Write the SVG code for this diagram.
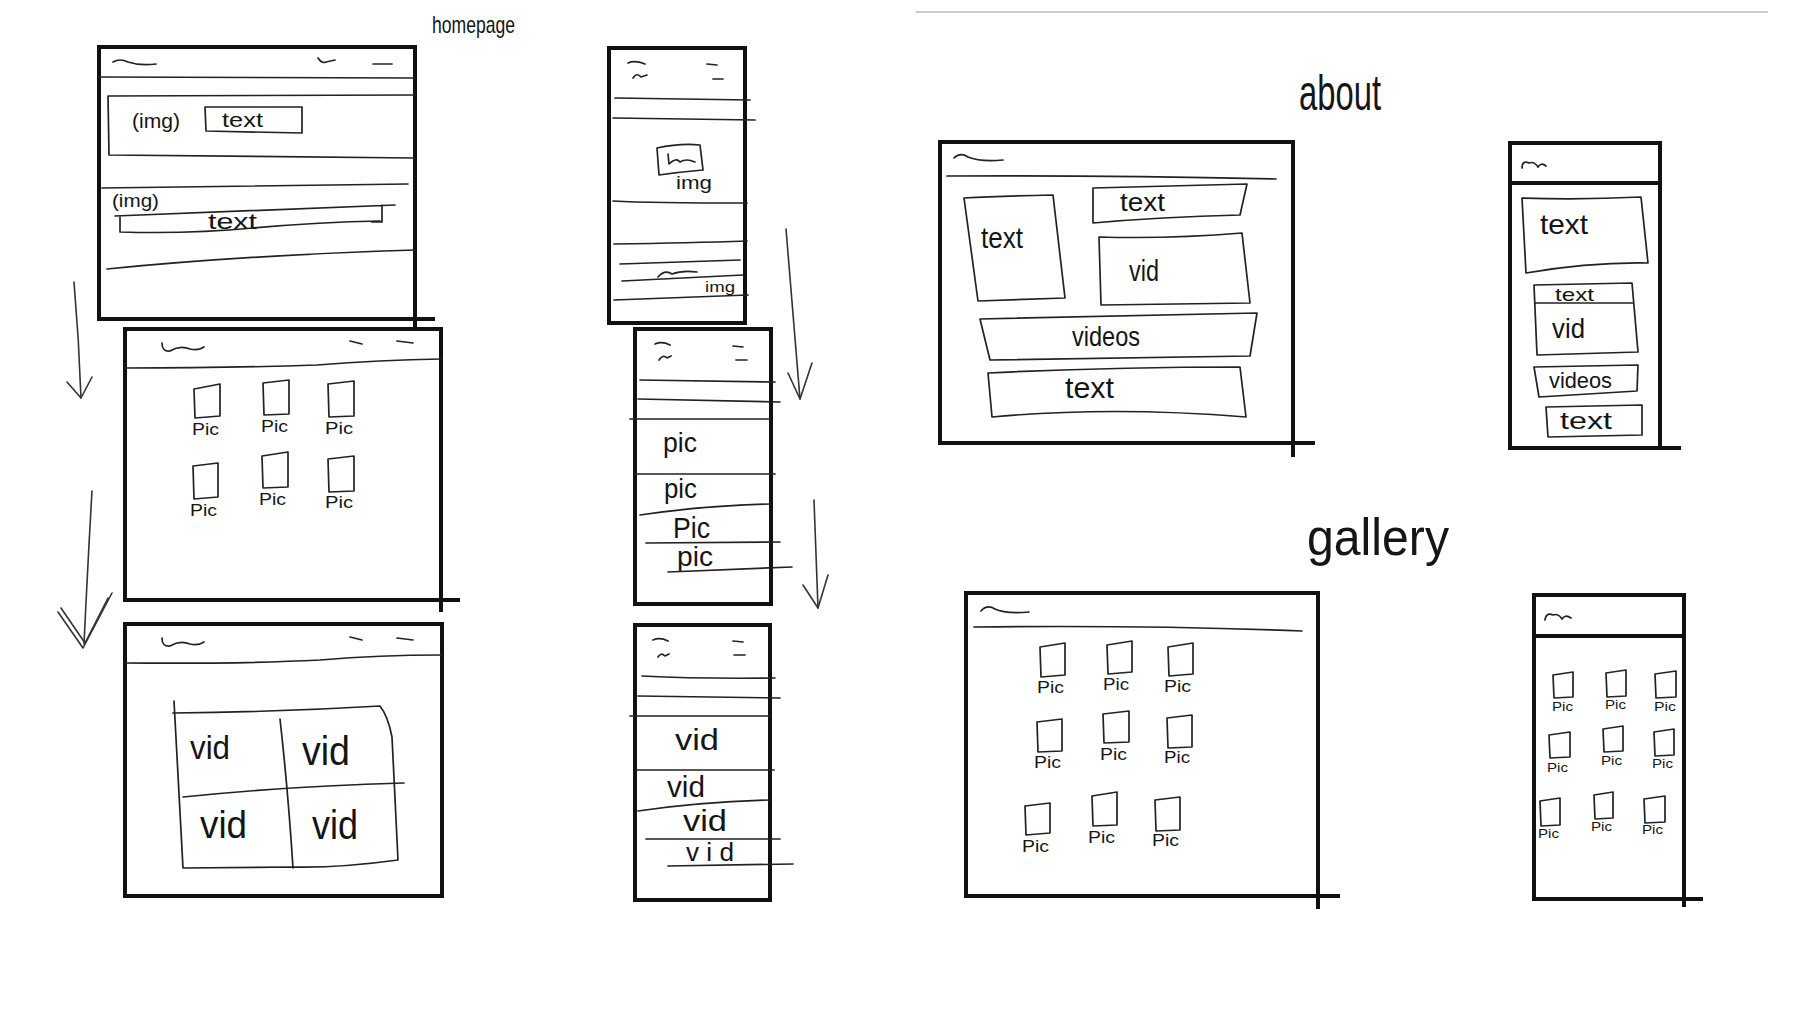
<svg xmlns="http://www.w3.org/2000/svg" width="1800" height="1033" viewBox="0 0 1800 1033">
<style>
.frame{fill:none;stroke:#111;stroke-width:4;stroke-linecap:square}
.ln{fill:none;stroke:#222;stroke-width:1.7;stroke-linecap:round;stroke-linejoin:round}
.hw{font-family:"Liberation Sans","DejaVu Sans",sans-serif;fill:#151515}
.arr{fill:none;stroke:#333;stroke-width:1.6;stroke-linecap:round;stroke-linejoin:round}
</style>
<rect width="1800" height="1033" fill="#ffffff"/>
<line x1="916" y1="12" x2="1768" y2="12" stroke="#c9ccd1" stroke-width="2"/>

<!-- HOMEPAGE -->
<text class="hw" x="432" y="33" font-size="24" textLength="83" lengthAdjust="spacingAndGlyphs">homepage</text>

<g id="home-desktop-1">
<rect class="frame" x="99" y="47" width="316" height="272"/>
<line class="frame" x1="415" y1="319" x2="433" y2="319"/>
<line class="frame" x1="415" y1="319" x2="415" y2="327"/>
<path class="ln" d="M113 62 Q120 58 128 62 Q140 66 156 64"/>
<path class="ln" d="M318 58 Q322 64 326 62 L335 60"/>
<path class="ln" d="M373 64 L392 64"/>
<path class="ln" d="M99 77 L415 78"/>
<path class="ln" d="M108 96 L415 95 M108 96 L109 155 M109 155 L415 158"/>
<text class="hw" x="132" y="128" font-size="20" textLength="48" lengthAdjust="spacingAndGlyphs">(img)</text>
<path class="ln" d="M205 107 L302 107 L302 133 L206 131 Z"/>
<text class="hw" x="222" y="127" font-size="20" textLength="41" lengthAdjust="spacingAndGlyphs">text</text>
<path class="ln" d="M102 188 L408 184"/>
<text class="hw" x="112" y="207" font-size="18" textLength="47" lengthAdjust="spacingAndGlyphs">(img)</text>
<path class="ln" d="M115 216 L395 205 M382 205 L382 222 L372 222 M120 216 L120 232 Q190 234 253 228 Q320 222 380 221"/>
<text class="hw" x="208" y="229" font-size="22" textLength="49" lengthAdjust="spacingAndGlyphs">text</text>
<path class="ln" d="M107 269 Q250 255 415 250"/>
</g>

<g id="home-desktop-2">
<rect class="frame" x="125" y="329" width="316" height="271"/>
<line class="frame" x1="441" y1="600" x2="458" y2="600"/>
<line class="frame" x1="441" y1="600" x2="441" y2="610"/>
<path class="ln" d="M162 343 Q162 352 170 351 Q180 345 190 349 Q198 351 204 347"/>
<path class="ln" d="M350 341 L362 344 M397 341 L413 343"/>
<path class="ln" d="M125 368 Q230 368 317 365 Q380 360 441 359"/>
<path class="ln" d="M194 389 L220 384 L220 416 L195 418 Z"/>
<path class="ln" d="M263 383 L289 380 L289 414 L264 415 Z"/>
<path class="ln" d="M328 384 L354 381 L354 416 L329 417 Z"/>
<text class="hw" x="192" y="435" font-size="16" textLength="27" lengthAdjust="spacingAndGlyphs">Pic</text>
<text class="hw" x="261" y="432" font-size="16" textLength="27" lengthAdjust="spacingAndGlyphs">Pic</text>
<text class="hw" x="325" y="434" font-size="16" textLength="28" lengthAdjust="spacingAndGlyphs">Pic</text>
<path class="ln" d="M193 466 L218 463 L218 497 L194 499 Z"/>
<path class="ln" d="M262 456 L288 452 L288 487 L263 488 Z"/>
<path class="ln" d="M328 459 L354 456 L354 491 L329 492 Z"/>
<text class="hw" x="190" y="516" font-size="16" textLength="27" lengthAdjust="spacingAndGlyphs">Pic</text>
<text class="hw" x="259" y="505" font-size="16" textLength="27" lengthAdjust="spacingAndGlyphs">Pic</text>
<text class="hw" x="325" y="508" font-size="16" textLength="28" lengthAdjust="spacingAndGlyphs">Pic</text>
</g>

<g id="home-desktop-3">
<rect class="frame" x="125" y="624" width="317" height="272"/>
<path class="ln" d="M162 638 Q162 647 170 646 Q180 640 190 644 Q198 646 204 642"/>
<path class="ln" d="M350 637 L362 640 M397 638 L413 640"/>
<path class="ln" d="M125 663 Q240 664 320 660 Q380 655 441 655"/>
<path class="ln" d="M173 713 Q280 712 380 706 Q388 716 392 737 L398 860 Q340 868 293 867 L183 868 L174 701"/>
<path class="ln" d="M280 719 Q288 790 293 868"/>
<path class="ln" d="M183 797 Q290 786 404 783"/>
<text class="hw" x="190" y="759" font-size="34" textLength="40" lengthAdjust="spacingAndGlyphs">vid</text>
<text class="hw" x="302" y="765" font-size="40" textLength="48" lengthAdjust="spacingAndGlyphs">vid</text>
<text class="hw" x="200" y="838" font-size="38" textLength="47" lengthAdjust="spacingAndGlyphs">vid</text>
<text class="hw" x="312" y="839" font-size="40" textLength="46" lengthAdjust="spacingAndGlyphs">vid</text>
</g>

<g id="home-mobile-1">
<rect class="frame" x="609" y="48" width="136" height="275"/>
<path class="ln" d="M628 63 Q635 60 645 64 M633 78 Q637 72 641 77 L647 75"/>
<path class="ln" d="M707 64 L717 65 M713 79 L723 79"/>
<path class="ln" d="M615 98 Q680 99 750 100"/>
<path class="ln" d="M613 118 L755 120"/>
<path class="ln" d="M657 148 Q680 143 700 145 L703 170 Q680 172 659 175 Z"/>
<path class="ln" d="M668 154 L669 164 Q676 157 680 162 Q686 158 695 162"/>
<text class="hw" x="676" y="189" font-size="18" textLength="36" lengthAdjust="spacingAndGlyphs">img</text>
<path class="ln" d="M613 201 Q650 203 747 203"/>
<path class="ln" d="M614 244 Q690 243 747 241"/>
<path class="ln" d="M620 264 L740 260"/>
<path class="ln" d="M658 277 Q665 269 672 274 Q682 270 697 272"/>
<path class="ln" d="M622 281 L743 275"/>
<text class="hw" x="705" y="292" font-size="14" textLength="30" lengthAdjust="spacingAndGlyphs">img</text>
<path class="ln" d="M614 300 L748 295"/>
</g>

<g id="home-mobile-2">
<rect class="frame" x="635" y="329" width="136" height="275"/>
<path class="ln" d="M655 344 Q662 341 670 345 M659 360 Q663 354 667 358 L671 356"/>
<path class="ln" d="M733 346 L743 347 M736 360 L747 360"/>
<path class="ln" d="M640 380 Q700 381 775 382"/>
<path class="ln" d="M638 399 L780 402"/>
<path class="ln" d="M630 419 L770 419"/>
<text class="hw" x="663" y="452" font-size="28" textLength="34" lengthAdjust="spacingAndGlyphs">pic</text>
<path class="ln" d="M635 474 L775 474"/>
<text class="hw" x="664" y="498" font-size="27" textLength="33" lengthAdjust="spacingAndGlyphs">pic</text>
<path class="ln" d="M640 515 Q700 506 770 504"/>
<text class="hw" x="673" y="538" font-size="30" textLength="37" lengthAdjust="spacingAndGlyphs">Pic</text>
<path class="ln" d="M646 543 L780 542"/>
<text class="hw" x="677" y="566" font-size="27" textLength="36" lengthAdjust="spacingAndGlyphs">pic</text>
<path class="ln" d="M668 572 L792 567"/>
</g>

<g id="home-mobile-3">
<rect class="frame" x="635" y="625" width="135" height="275"/>
<path class="ln" d="M653 640 Q660 637 668 641 M658 657 Q661 652 665 656 L669 654"/>
<path class="ln" d="M733 641 L743 642 M734 655 L745 655"/>
<path class="ln" d="M642 676 Q700 679 775 678"/>
<path class="ln" d="M638 696 L780 698"/>
<path class="ln" d="M630 716 L770 716"/>
<text class="hw" x="675" y="750" font-size="30" textLength="44" lengthAdjust="spacingAndGlyphs">vid</text>
<path class="ln" d="M636 770 L774 770"/>
<text class="hw" x="667" y="797" font-size="30" textLength="38" lengthAdjust="spacingAndGlyphs">vid</text>
<path class="ln" d="M638 811 Q700 802 770 800"/>
<text class="hw" x="683" y="831" font-size="30" textLength="44" lengthAdjust="spacingAndGlyphs">vid</text>
<path class="ln" d="M646 839 L780 839"/>
<text class="hw" x="686" y="861" font-size="26" textLength="48" lengthAdjust="spacingAndGlyphs">v i d</text>
<path class="ln" d="M668 866 L793 864"/>
</g>

<!-- ABOUT -->
<text class="hw" x="1299" y="110" font-size="50" textLength="82" lengthAdjust="spacingAndGlyphs">about</text>

<g id="about-desktop">
<rect class="frame" x="940" y="142" width="353" height="301"/>
<line class="frame" x1="1293" y1="443" x2="1313" y2="443"/>
<line class="frame" x1="1293" y1="443" x2="1293" y2="455"/>
<path class="ln" d="M954 158 Q960 152 968 157 Q980 162 1003 160"/>
<path class="ln" d="M947 176 Q1100 175 1276 179"/>
<path class="ln" d="M964 198 Q1000 196 1053 195 L1065 298 L978 301 Z"/>
<text class="hw" x="981" y="248" font-size="30" textLength="42" lengthAdjust="spacingAndGlyphs">text</text>
<path class="ln" d="M1093 188 L1247 184 L1240 215 Q1160 217 1093 223 Z"/>
<text class="hw" x="1120" y="211" font-size="26" textLength="45" lengthAdjust="spacingAndGlyphs">text</text>
<path class="ln" d="M1099 237 Q1170 239 1242 233 L1250 303 L1101 305 Z"/>
<text class="hw" x="1129" y="281" font-size="30" textLength="30" lengthAdjust="spacingAndGlyphs">vid</text>
<path class="ln" d="M980 319 L1257 313 L1250 356 L990 360 Z"/>
<text class="hw" x="1072" y="346" font-size="28" textLength="68" lengthAdjust="spacingAndGlyphs">videos</text>
<path class="ln" d="M988 373 Q1110 367 1240 367 L1246 417 Q1110 406 992 417 Z"/>
<text class="hw" x="1065" y="398" font-size="30" textLength="49" lengthAdjust="spacingAndGlyphs">text</text>
</g>

<g id="about-mobile">
<rect class="frame" x="1510" y="143" width="150" height="305"/>
<line class="frame" x1="1660" y1="448" x2="1679" y2="448"/>
<line class="frame" x1="1510" y1="183" x2="1660" y2="183" stroke-width="2"/>
<path class="ln" d="M1522 168 Q1522 160 1529 163 Q1534 161 1538 167 Q1541 162 1546 166"/>
<path class="ln" d="M1522 198 Q1580 200 1641 197 L1648 263 Q1590 262 1526 273 Z"/>
<text class="hw" x="1540" y="234" font-size="28" textLength="48" lengthAdjust="spacingAndGlyphs">text</text>
<path class="ln" d="M1534 285 L1632 283 L1638 352 L1537 355 Z"/>
<path class="ln" d="M1535 303 L1633 303"/>
<text class="hw" x="1555" y="301" font-size="19" textLength="39" lengthAdjust="spacingAndGlyphs">text</text>
<text class="hw" x="1552" y="338" font-size="28" textLength="33" lengthAdjust="spacingAndGlyphs">vid</text>
<path class="ln" d="M1534 367 L1638 365 L1637 391 L1539 397 Z"/>
<text class="hw" x="1549" y="388" font-size="22" textLength="63" lengthAdjust="spacingAndGlyphs">videos</text>
<path class="ln" d="M1546 407 L1642 405 L1642 435 L1548 437 Z"/>
<text class="hw" x="1560" y="429" font-size="24" textLength="52" lengthAdjust="spacingAndGlyphs">text</text>
</g>

<!-- GALLERY -->
<text class="hw" x="1307" y="555" font-size="52" textLength="142" lengthAdjust="spacingAndGlyphs">gallery</text>

<g id="gallery-desktop">
<rect class="frame" x="966" y="593" width="352" height="303"/>
<line class="frame" x1="1318" y1="896" x2="1338" y2="896"/>
<line class="frame" x1="1318" y1="896" x2="1318" y2="907"/>
<path class="ln" d="M981 611 Q987 604 995 609 Q1005 614 1029 612"/>
<path class="ln" d="M974 627 Q1150 625 1302 631"/>
<path class="ln" d="M1040 647 L1065 643 L1065 675 L1041 677 Z"/>
<path class="ln" d="M1107 645 L1132 641 L1132 672 L1108 674 Z"/>
<path class="ln" d="M1168 647 L1193 643 L1193 674 L1169 676 Z"/>
<text class="hw" x="1037" y="693" font-size="16" textLength="27" lengthAdjust="spacingAndGlyphs">Pic</text>
<text class="hw" x="1103" y="690" font-size="16" textLength="26" lengthAdjust="spacingAndGlyphs">Pic</text>
<text class="hw" x="1164" y="692" font-size="16" textLength="27" lengthAdjust="spacingAndGlyphs">Pic</text>
<path class="ln" d="M1037 722 L1062 719 L1062 751 L1038 752 Z"/>
<path class="ln" d="M1103 714 L1129 711 L1129 742 L1104 743 Z"/>
<path class="ln" d="M1167 718 L1192 715 L1192 747 L1168 748 Z"/>
<text class="hw" x="1034" y="768" font-size="16" textLength="27" lengthAdjust="spacingAndGlyphs">Pic</text>
<text class="hw" x="1100" y="760" font-size="16" textLength="27" lengthAdjust="spacingAndGlyphs">Pic</text>
<text class="hw" x="1164" y="763" font-size="16" textLength="26" lengthAdjust="spacingAndGlyphs">Pic</text>
<path class="ln" d="M1025 806 L1050 803 L1050 833 L1026 835 Z"/>
<path class="ln" d="M1092 796 L1117 792 L1117 825 L1093 826 Z"/>
<path class="ln" d="M1155 800 L1180 797 L1180 830 L1156 831 Z"/>
<text class="hw" x="1022" y="852" font-size="16" textLength="27" lengthAdjust="spacingAndGlyphs">Pic</text>
<text class="hw" x="1088" y="843" font-size="16" textLength="27" lengthAdjust="spacingAndGlyphs">Pic</text>
<text class="hw" x="1152" y="846" font-size="16" textLength="27" lengthAdjust="spacingAndGlyphs">Pic</text>
</g>

<g id="gallery-mobile">
<rect class="frame" x="1534" y="595" width="150" height="304"/>
<line class="frame" x1="1684" y1="899" x2="1701" y2="899"/>
<line class="frame" x1="1684" y1="899" x2="1684" y2="905"/>
<line class="frame" x1="1534" y1="636" x2="1684" y2="636" stroke-width="2"/>
<path class="ln" d="M1545 620 Q1546 612 1553 615 Q1558 613 1562 619 Q1565 614 1571 618"/>
<path class="ln" d="M1553 675 L1573 672 L1573 697 L1554 698 Z"/>
<path class="ln" d="M1606 673 L1626 670 L1626 696 L1607 697 Z"/>
<path class="ln" d="M1655 674 L1676 671 L1676 697 L1656 698 Z"/>
<text class="hw" x="1552" y="711" font-size="13" textLength="21" lengthAdjust="spacingAndGlyphs">Pic</text>
<text class="hw" x="1605" y="709" font-size="13" textLength="21" lengthAdjust="spacingAndGlyphs">Pic</text>
<text class="hw" x="1654" y="711" font-size="13" textLength="22" lengthAdjust="spacingAndGlyphs">Pic</text>
<path class="ln" d="M1549 735 L1570 732 L1570 757 L1550 758 Z"/>
<path class="ln" d="M1603 729 L1623 726 L1623 751 L1604 752 Z"/>
<path class="ln" d="M1654 732 L1674 729 L1674 755 L1655 756 Z"/>
<text class="hw" x="1547" y="772" font-size="13" textLength="21" lengthAdjust="spacingAndGlyphs">Pic</text>
<text class="hw" x="1601" y="765" font-size="13" textLength="21" lengthAdjust="spacingAndGlyphs">Pic</text>
<text class="hw" x="1652" y="768" font-size="13" textLength="21" lengthAdjust="spacingAndGlyphs">Pic</text>
<path class="ln" d="M1540 801 L1560 798 L1560 825 L1541 826 Z"/>
<path class="ln" d="M1594 795 L1613 792 L1613 818 L1595 819 Z"/>
<path class="ln" d="M1644 799 L1665 796 L1665 822 L1645 823 Z"/>
<text class="hw" x="1538" y="838" font-size="13" textLength="21" lengthAdjust="spacingAndGlyphs">Pic</text>
<text class="hw" x="1591" y="831" font-size="13" textLength="21" lengthAdjust="spacingAndGlyphs">Pic</text>
<text class="hw" x="1642" y="834" font-size="13" textLength="21" lengthAdjust="spacingAndGlyphs">Pic</text>
</g>

<g id="connectors">
<path class="arr" d="M74 282 Q79 340 81 398"/>
<polyline class="arr" points="67,382 81,398 92,377"/>
<path class="arr" d="M92 491 Q88 560 84 644"/>
<polyline class="arr" points="58,612 83,648 112,593"/>
<polyline class="arr" points="61,608 85,643 108,598"/>
<path class="arr" d="M786 229 Q793 310 800 399"/>
<polyline class="arr" points="788,373 800,399 812,363"/>
<path class="arr" d="M814 500 Q816 550 818 608"/>
<polyline class="arr" points="803,585 818,608 828,575"/>
</g>
</svg>
